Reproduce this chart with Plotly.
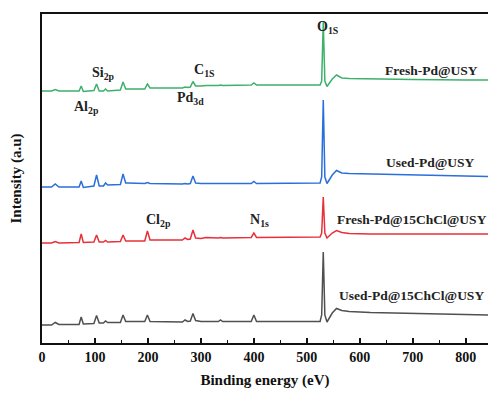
import plotly.graph_objects as go

# Binding energy grid (eV)
energy = [0, 18, 25, 32, 70, 74, 78, 98, 103, 108, 116, 120, 124, 148, 153, 158, 162,
          194, 199, 204, 265, 270, 275, 280, 285, 290, 300, 310, 333, 337, 341,
          395, 400, 405, 525, 528, 531, 534, 538, 548, 556, 566, 580, 620, 700, 800, 842]

# Intensities (a.u., stacked with offsets as in the figure)
fresh_pd_usy = [252, 252, 253.5, 252, 252, 257, 251.5, 252.5, 259, 252, 252, 254, 252, 253, 261, 254, 254,
                254, 259, 255, 255, 256, 255.5, 256, 261.5, 257, 257, 257.5, 257.5, 258, 257.5,
                258, 260, 258, 258, 262, 321, 262, 256.5, 264, 268, 265, 264.5, 264, 263.5, 263, 263]
used_pd_usy = [156, 156, 159, 156, 156, 162, 155.5, 157, 168, 157, 157, 160, 158, 158.5, 169, 160, 160,
               159.5, 160.5, 159.5, 159, 159.5, 159, 159.5, 167, 160, 159.5, 159.5, 159.5, 160, 159.5,
               159.5, 161.5, 159.5, 160, 166, 243, 166, 159.5, 168, 172.5, 170, 169.5, 169, 168, 167, 166.5]
fresh_pd_chcl = [100, 100, 101.5, 100, 100.5, 109, 100.5, 101, 108, 101, 101, 102.5, 101, 101.5, 108, 102, 102,
                 102, 112, 103, 103, 105, 103.5, 104, 113, 105, 104.5, 105.5, 105, 105.5, 105,
                 105.5, 110, 105.5, 106, 110, 146, 110, 105, 110, 112.5, 110.5, 109.5, 109, 109, 109, 109]
used_pd_chcl = [18, 18, 20.5, 18.5, 18.5, 26, 19, 19.5, 27.5, 20, 20, 22, 20.5, 20.5, 28, 21.5, 21.5,
                21.5, 28, 21.5, 21, 23, 21.5, 22, 29.5, 22.5, 21.5, 21.5, 21.5, 23, 21.5,
                21.5, 28, 21.5, 21.5, 28, 91, 28, 21, 30, 34.5, 32.5, 31.5, 30.5, 29.5, 28.5, 28]

series = [
    ("Fresh-Pd@USY", fresh_pd_usy, "#3DB06B"),
    ("Used-Pd@USY", used_pd_usy, "#2B6FDB"),
    ("Fresh-Pd@15ChCl@USY", fresh_pd_chcl, "#E8303A"),
    ("Used-Pd@15ChCl@USY", used_pd_chcl, "#505050"),
]

x_ticks = [0, 100, 200, 300, 400, 500, 600, 700, 800]

fig = go.Figure()
for name, vals, col in series:
    fig.add_trace(go.Scatter(x=energy, y=vals, mode="lines", name=name,
                             line=dict(color=col, width=1.5), showlegend=False))

FONT = "Liberation Serif, Times New Roman, serif"

# series labels
labels = [
    ("<b>Fresh-Pd@USY</b>", 643, 273),
    ("<b>Used-Pd@USY</b>", 645, 181),
    ("<b>Fresh-Pd@15ChCl@USY</b>", 553, 124),
    ("<b>Used-Pd@15ChCl@USY</b>", 557, 48),
]
for txt, xx, yy in labels:
    fig.add_annotation(x=xx, y=yy, text=txt, showarrow=False, xanchor="left",
                       yanchor="middle", font=dict(family=FONT, size=13.5, color="#222"))

# peak labels
peaks = [
    ("<b>O<sub>1S</sub></b>", 516, 316),
    ("<b>Si<sub>2p</sub></b>", 90, 270),
    ("<b>Al<sub>2p</sub></b>", 56, 236),
    ("<b>C<sub>1S</sub></b>", 283, 273),
    ("<b>Pd<sub>3d</sub></b>", 252, 245),
    ("<b>Cl<sub>2p</sub></b>", 192, 123),
    ("<b>N<sub>1s</sub></b>", 388, 123),
]
for txt, xx, yy in peaks:
    fig.add_annotation(x=xx, y=yy, text=txt, showarrow=False, xanchor="left",
                       yanchor="middle", font=dict(family=FONT, size=14, color="#222"))

fig.update_layout(
    width=488, height=394,
    margin=dict(l=42, r=0, t=14, b=51),
    paper_bgcolor="white", plot_bgcolor="white",
    font=dict(family=FONT, color="#111"),
    xaxis=dict(range=[0, 842], tickvals=x_ticks, ticks="inside", ticklen=5, tickwidth=1.5,
               tickcolor="#111", showline=True, linecolor="#111", linewidth=2, mirror=True,
               showgrid=False, zeroline=False,
               tickfont=dict(family=FONT, size=14, color="#111", weight="bold"),
               minor=dict(dtick=50, ticks="inside", ticklen=3, tickwidth=1.2, tickcolor="#111", showgrid=False),
               title=dict(text="<b>Binding energy (eV)</b>", font=dict(family=FONT, size=15, color="#111"),
                          standoff=11)),
    yaxis=dict(range=[0, 329], showticklabels=False, ticks="", showline=True, linecolor="#111",
               linewidth=2, showgrid=False, zeroline=False,
               title=dict(text="<b>Intensity (a.u)</b>", font=dict(family=FONT, size=15, color="#111"),
                          standoff=15)),
)

fig.write_html("out.html")
